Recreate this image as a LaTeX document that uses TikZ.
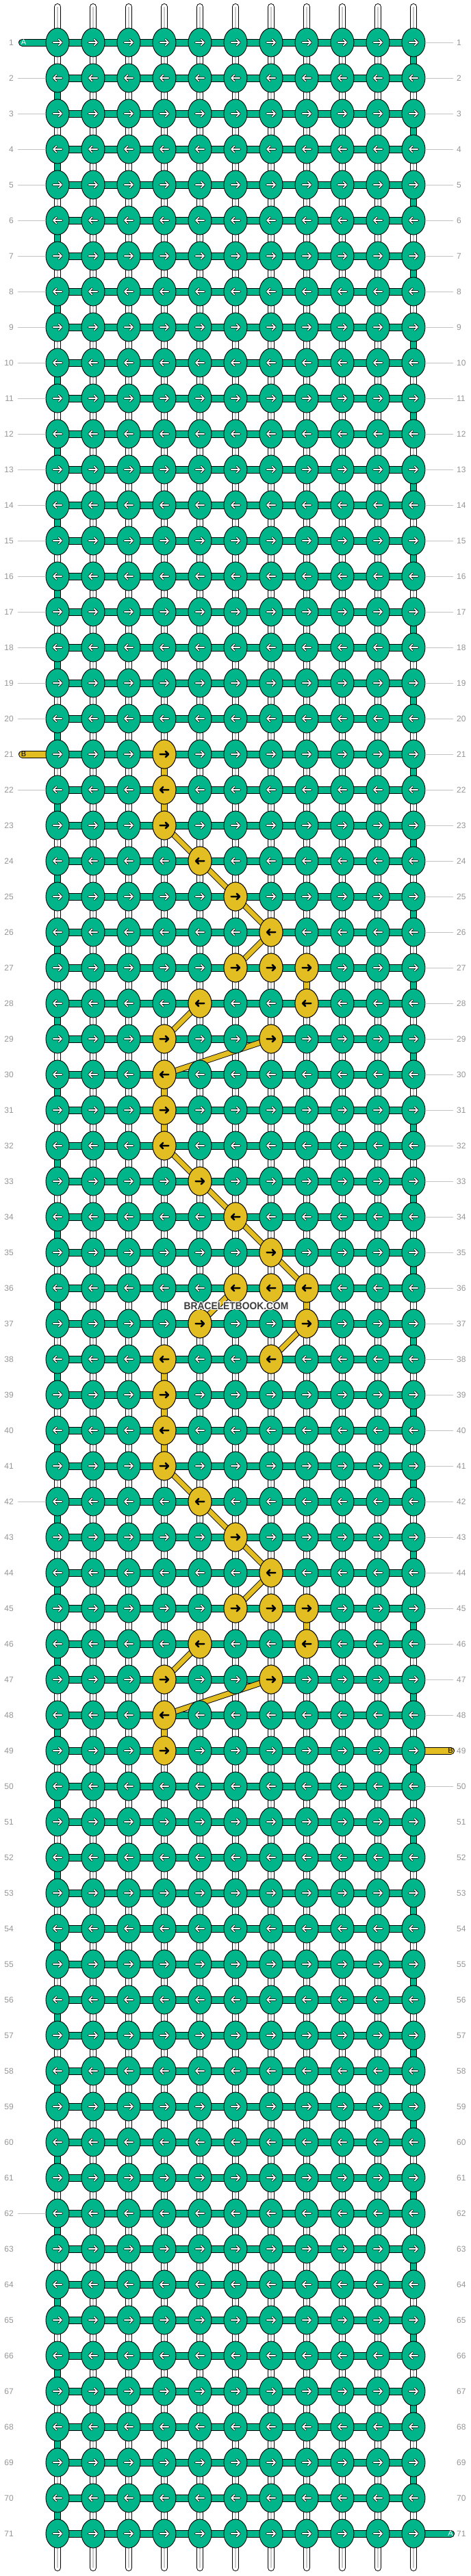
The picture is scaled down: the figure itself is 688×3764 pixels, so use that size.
\documentclass[tikz,border=0pt]{standalone}
\usepackage{fontspec}
\setmainfont{Liberation Sans}
\usetikzlibrary{shapes.geometric}

\definecolor{knotgreen}{RGB}{0,181,137}
\definecolor{knotyellow}{RGB}{226,190,34}
\definecolor{rowgray}{RGB}{150,150,150}
\definecolor{tickgray}{RGB}{195,195,195}
\definecolor{coregray}{RGB}{200,200,200}
\definecolor{markgray}{RGB}{60,60,60}

\pgfdeclarelayer{paper}
\pgfdeclarelayer{threads}
\pgfdeclarelayer{bands}
\pgfsetlayers{paper,threads,bands,main}

\tikzset{
  knot/.style={ellipse, draw=black, line width=0.9pt, minimum width=34pt, minimum height=42pt, inner sep=0pt},
  gknot/.style={knot, fill=knotgreen},
  yknot/.style={knot, fill=knotyellow},
  band/.style={draw=black, line width=1pt, double distance=8pt},
  wband/.style={band, double=white},
  gband/.style={band, double=knotgreen},
  yband/.style={band, double=knotyellow},
  rowband/.style={draw=black, line width=1pt, double distance=9pt, double=knotgreen},
  dband/.style={draw=black, line width=0.9pt, double distance=7pt, double=knotyellow},
  tube/.style={draw=black, line width=1pt, double distance=9pt, line cap=round},
  core/.style={draw=coregray, line width=1.6pt},
  rowno/.style={text=rowgray, font=\fontsize{12}{14}\selectfont, inner sep=0pt},
  tick/.style={draw=tickgray, line width=0.8pt},
  tag/.style={font=\fontsize{11}{12}\selectfont, inner sep=0pt},
  wmark/.style={font=\fontsize{15}{16}\selectfont\bfseries, inner sep=0pt},
  pics/arrow/.style 2 args={code={
    \draw[line width=3.4pt, draw=#1, line cap=round, line join=round] (-6.3,0) -- (6,0) (1.8,-4.2) -- (6,0) -- (1.8,4.2);
    \draw[line width=1.7pt, draw=#2, line cap=round, line join=round] (-6.3,0) -- (6,0) (1.8,-4.2) -- (6,0) -- (1.8,4.2);
  }},
  pics/darkarrow/.style={code={
    \draw[line width=2.5pt, draw=black, line cap=round, line join=round] (-6.3,0) -- (6,0) (1.8,-4.2) -- (6,0) -- (1.8,4.2);
  }},
}

\begin{document}
\begin{tikzpicture}[x=1pt, y=-1pt]
\begin{pgfonlayer}{paper}
  \fill[white] (0,0) rectangle (688,3764);
\end{pgfonlayer}
\useasboundingbox (0,0) rectangle (688,3764);

% knots, green ground
\foreach \r in {1,...,71}{
  \foreach \c in {1,...,11}{
    \node[gknot] (k-\r-\c) at ({84+52*(\c-1)},{62+52*(\r-1)}) {};
    \ifodd\r \pic at (k-\r-\c) {arrow={black}{white}};
    \else \pic[xscale=-1] at (k-\r-\c) {arrow={black}{white}};
    \fi
  }
}

% knots in the second colour
\foreach \r/\c in {21/4,22/4,23/4,24/5,25/6,26/7,27/6,27/7,27/8,28/5,28/8,29/4,29/7,
                   30/4,31/4,32/4,33/5,34/6,35/7,36/6,36/7,36/8,37/5,37/8,38/4,38/7,
                   39/4,40/4,41/4,42/5,43/6,44/7,45/6,45/7,45/8,46/5,46/8,47/4,47/7,48/4,49/4}{
  \node[yknot] (k-\r-\c) at (k-\r-\c) {};
  \ifodd\r \pic at (k-\r-\c) {darkarrow};
  \else \pic[xscale=-1] at (k-\r-\c) {darkarrow};
  \fi
}

% hanging strings
\begin{pgfonlayer}{threads}
  \foreach \c in {1,...,11}{
    \coordinate (top-\c) at ({84+52*(\c-1)},10);
    \coordinate (bot-\c) at ({84+52*(\c-1)},3752);
    \draw[wband, line cap=round] (top-\c) -- (k-1-\c.center);
    \draw[core] (top-\c) -- (k-1-\c.center);
    \draw[wband, line cap=round] (k-71-\c.center) -- (bot-\c);
    \draw[core] (k-71-\c.center) -- (bot-\c);
  }
  \foreach \r [evaluate=\r as \n using int(\r+1)] in {1,...,70}{
    \foreach \c in {1,...,11}{
      \draw[wband] (k-\r-\c.center) -- (k-\n-\c.center);
      \draw[core] (k-\r-\c.center) -- (k-\n-\c.center);
    }
  }
  % string A turning at the edges
  \foreach \r [evaluate=\r as \n using int(\r+1)] in {1,...,70}{
    \ifodd\r \def\c{11}\else \def\c{1}\fi
    \draw[gband] (k-\r-\c.center) -- (k-\n-\c.center);
  }
  \foreach \r/\c [evaluate=\r as \n using int(\r+1)] in {21/4,22/4,27/8,30/4,31/4,36/8,38/4,39/4,40/4,45/8,48/4}{
    \draw[yband] (k-\r-\c.center) -- (k-\n-\c.center);
  }
\end{pgfonlayer}

\begin{pgfonlayer}{bands}
  \foreach \r in {1,...,71}{
    \draw[rowband] (k-\r-1.center) -- (k-\r-11.center);
  }
  % string B
  \foreach \r/\c/\s/\d in {23/4/24/5,24/5/25/6,25/6/26/7,26/7/27/6,28/5/29/4,29/7/30/4,
                           32/4/33/5,33/5/34/6,34/6/35/7,35/7/36/8,36/6/37/5,37/8/38/7,
                           41/4/42/5,42/5/43/6,43/6/44/7,44/7/45/6,46/5/47/4,47/7/48/4}{
    \draw[dband] (k-\r-\c.center) -- (k-\s-\d.center);
  }
  % loose ends
  \coordinate (a-in) at (32.5,62);
  \coordinate (b-in) at (32.5,1102);
  \coordinate (b-out) at (658.5,2558);
  \coordinate (a-out) at (658.5,3702);
  \draw[tube, double=knotgreen] (a-in) -- (k-1-1.center);
  \draw[tube, double=knotyellow] (b-in) -- (k-21-1.center);
  \draw[tube, double=knotyellow] (k-49-11.center) -- (b-out);
  \draw[tube, double=knotgreen] (k-71-11.center) -- (a-out);
  \node[tag, text=white] (a-tag) at (34.5,62) {A};
  \node[tag] (b-tag) at (34.5,1102) {B};
  \node[tag] (b-tag2) at (658,2558) {B};
  \node[tag, text=white] (a-tag2) at (658,3702) {A};
\end{pgfonlayer}

% row numbers
\foreach \r in {1,...,71}{
  \node[rowno, anchor=east] (ln-\r) at (20,{62+52*(\r-1)}) {\r};
  \node[rowno, anchor=west] (rn-\r) at (667,{62+52*(\r-1)}) {\r};
}
\foreach \r in {2,...,20,22,...,71}
  \draw[tick] ([xshift=6pt]ln-\r.east) -- (k-\r-1.west);
\foreach \r in {1,...,48,50,...,70}
  \draw[tick] (k-\r-11.east) -- ([xshift=-5pt]rn-\r.west);

% watermark
\foreach \dx/\dy in {-1/0,1/0,0/-1,0/1,-1/-1,1/1,-1/1,1/-1}
  \node[wmark, text=white] (halo) at ({345+\dx},{1908+\dy}) {\scalebox{0.92}[1]{BRACELETBOOK.COM}};
\node[wmark, text=markgray] (site) at (345,1908) {\scalebox{0.92}[1]{BRACELETBOOK.COM}};
\end{tikzpicture}
\end{document}
